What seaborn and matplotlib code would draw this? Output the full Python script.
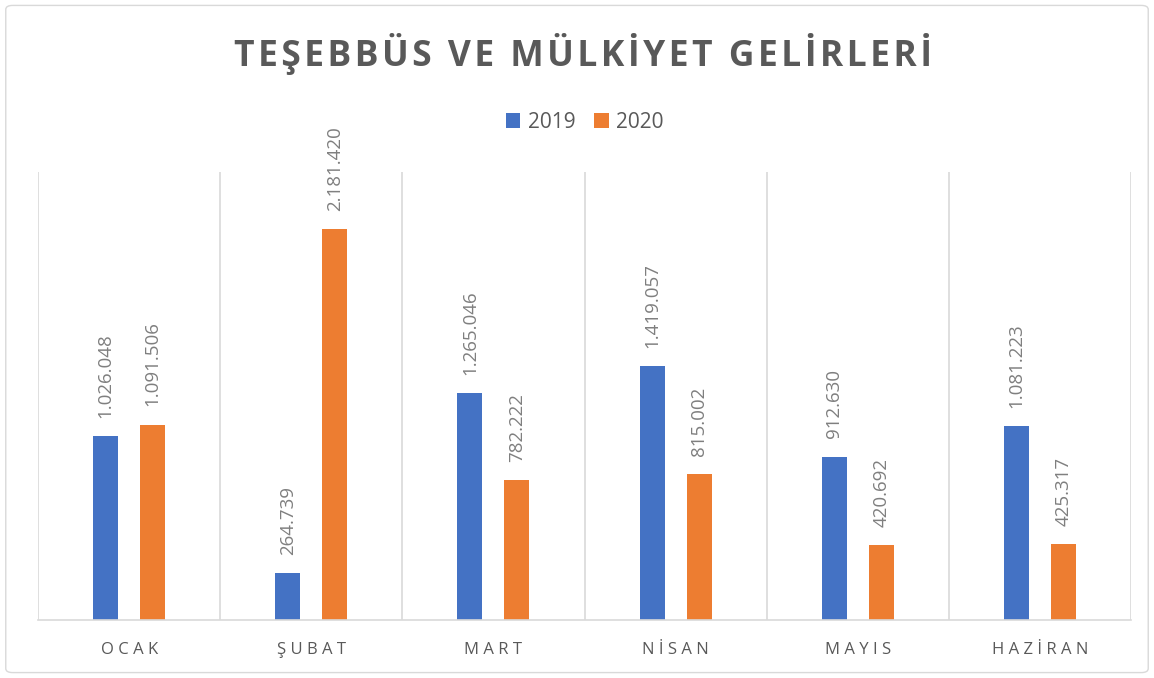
import pandas as pd
import seaborn as sns
import matplotlib.pyplot as plt
from matplotlib.patches import FancyBboxPatch

# veriler
aylar = ['OCAK', 'ŞUBAT', 'MART', 'NİSAN', 'MAYIS', 'HAZİRAN']
yillar = ['2019', '2020']
deger_2019 = [1026048, 264739, 1265046, 1419057, 912630, 1081223]
deger_2020 = [1091506, 2181420, 782222, 815002, 420692, 425317]

df = pd.DataFrame({
    'ay': aylar * 2,
    'yil': [yillar[0]] * len(aylar) + [yillar[1]] * len(aylar),
    'deger': deger_2019 + deger_2020,
})

sns.set_theme(style='white')
plt.rcParams['font.family'] = ['Open Sans', 'DejaVu Sans']
gri = '#595959'

fig = plt.figure(figsize=(11.54, 6.78), dpi=100)
ax = fig.add_axes([0.033, 0.0855, 0.947, 0.6605])

ax = sns.barplot(data=df, x='ay', y='deger', hue='yil', order=aylar, hue_order=yillar,
                 palette=['#4472C4', '#ED7D31'], width=0.516, gap=0.47, ax=ax,
                 saturation=1, edgecolor='none')

# veri etiketleri (Türkçe binlik ayırıcı)
for cont in ax.containers:
    for bar in cont:
        h = bar.get_height()
        etiket = f'{h:,.0f}'.replace(',', '.')
        ax.annotate(etiket, (bar.get_x() + bar.get_width() / 2, h),
                    xytext=(0, 13), textcoords='offset points',
                    rotation=90, ha='center', va='bottom', fontsize=13.5, color='#7f7f7f')

ax.set_ylim(0, 2500000)
ax.set_xlim(-0.5, len(aylar) - 0.5)
ax.set_yticks([])
ax.set_xlabel('')
ax.set_ylabel('')

# kategori ayırıcı dikey çizgiler
for i in range(len(aylar) + 1):
    ax.axvline(i - 0.5, color='#d9d9d9', linewidth=1.2, zorder=0)

for s in ['top', 'right', 'left']:
    ax.spines[s].set_visible(False)
ax.spines['bottom'].set_color('#d9d9d9')
ax.spines['bottom'].set_linewidth(1.2)

ax.set_xticks(range(len(aylar)))
ax.set_xticklabels([' '.join(a) for a in aylar], fontsize=12, color=gri)
ax.tick_params(axis='x', length=0, pad=16)

# lejant
ax.legend(loc='center', bbox_to_anchor=(0.5, 1.112), ncol=2, frameon=False,
          fontsize=15, labelcolor=gri, handlelength=0.7, handleheight=0.7,
          handletextpad=0.35, columnspacing=0.9)

# başlık (harf aralıklı)
baslik = 'TEŞEBBÜS VE MÜLKİYET GELİRLERİ'
fig.text(0.5055, 0.92, '\u200a'.join(baslik), ha='center', va='center',
         fontsize=25.5, fontweight='bold', color=gri)

# dış çerçeve
fig.patches.append(FancyBboxPatch((0.005, 0.008), 0.99, 0.984,
                                  boxstyle='round,pad=0,rounding_size=0.006',
                                  transform=fig.transFigure, fill=False,
                                  edgecolor='#d9d9d9', linewidth=1))

plt.savefig('out.png', dpi=100)
